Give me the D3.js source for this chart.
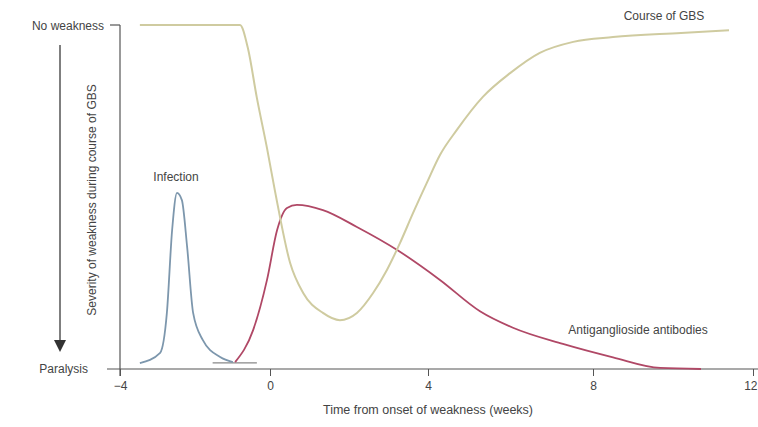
<!DOCTYPE html>
<html>
<head>
<meta charset="utf-8">
<script src="https://cdn.jsdelivr.net/npm/d3@7"></script>
<style>
  body { margin: 0; background: #fff; }
  text { font-family: "Liberation Sans", Arial, sans-serif; fill: #444; }
</style>
</head>
<body>
<svg width="758" height="427"></svg>
<script>
// weeks from onset, severity (100 = no weakness, 0 = paralysis)
const gbsWeeks = [-3.47, -0.8, -0.59, -0.35, -0.08, 0.13, 0.51, 0.84, 1.34, 1.77, 2.2, 2.61, 2.96, 3.29, 3.62, 3.97, 4.29, 4.7, 5.33, 5.99, 6.71, 7.52, 8.5, 10.2, 11.4];
const gbsValues = [100, 100, 93.3, 78.8, 64.2, 51.5, 30.8, 22.1, 16.3, 14.2, 16.3, 22.1, 28.8, 36.6, 45.3, 54.1, 62.2, 69.5, 79.1, 86.0, 91.9, 95.1, 96.5, 97.7, 98.5];

const abWeeks = [-0.93, -0.45, -0.08, 0.18, 0.43, 0.68, 1.34, 2.2, 3.22, 4.29, 5.26, 6.06, 7.27, 8.5, 9.68, 10.7];
const abValues = [2.0, 11.3, 25.9, 40.4, 46.8, 47.7, 46.2, 41.3, 34.6, 25.9, 16.8, 12.0, 7.3, 3.4, 0.3, 0];

const infWeeks = [-3.47, -2.93, -2.75, -2.61, -2.48, -2.35, -2.21, -2.05, -1.79, -1.33, -0.99];
const infValues = [1.7, 4.7, 16.3, 40.4, 51.2, 49.1, 35.5, 16.3, 8.4, 3.5, 2.0];

const baseWeeks = [-1.53, -0.35];
const baseValues = [1.8, 1.8];

const xTicks = [-4, 0, 4, 8, 12];

const svg = d3.select("svg");

// drawn axis is not quite even, so a piecewise scale
const x = d3.scaleLinear().domain([-4, 0, 4, 8, 12]).range([120, 270, 428, 593, 753]);
const y = d3.scaleLinear().domain([0, 100]).range([369, 25]);

const line = d3.line()
  .x(d => x(d[0]))
  .y(d => y(d[1]))
  .curve(d3.curveMonotoneX);

const zip = (a, b) => a.map((v, i) => [v, b[i]]);

// axes
svg.append("line")
  .attr("x1", 107).attr("x2", 758)
  .attr("y1", y(0)).attr("y2", y(0))
  .attr("stroke", "#555").attr("stroke-width", 1.2);
svg.append("line")
  .attr("x1", x(-4)).attr("x2", x(-4))
  .attr("y1", y(100)).attr("y2", y(0) + 7)
  .attr("stroke", "#555").attr("stroke-width", 1.2);
svg.append("line")
  .attr("x1", x(-4) - 10).attr("x2", x(-4))
  .attr("y1", y(100)).attr("y2", y(100))
  .attr("stroke", "#555").attr("stroke-width", 1.2);

const xAxis = svg.append("g")
  .attr("transform", "translate(0," + y(0) + ")")
  .call(d3.axisBottom(x).tickValues(xTicks).tickSize(7).tickPadding(5).tickFormat(d3.format("d")));
xAxis.select(".domain").remove();
xAxis.selectAll("line").attr("stroke", "#555");
xAxis.selectAll("text").attr("font-size", 12).attr("fill", "#444")
  .style("font-family", "Liberation Sans, Arial, sans-serif");
// last label sits against the right edge
xAxis.selectAll("text").filter(d => d === 12)
  .attr("text-anchor", "end").attr("dx", 4);

svg.append("text")
  .attr("x", 428).attr("y", 414)
  .attr("text-anchor", "middle").attr("font-size", 12.5)
  .text("Time from onset of weakness (weeks)");

svg.append("text")
  .attr("transform", "translate(96,200) rotate(-90)")
  .attr("text-anchor", "middle").attr("font-size", 12)
  .text("Severity of weakness during course of GBS");

svg.append("text")
  .attr("x", 104).attr("y", 30)
  .attr("text-anchor", "end").attr("font-size", 12)
  .text("No weakness");
svg.append("text")
  .attr("x", 88).attr("y", 373)
  .attr("text-anchor", "end").attr("font-size", 12)
  .text("Paralysis");

// arrow
svg.append("line")
  .attr("x1", 60).attr("x2", 60).attr("y1", 45).attr("y2", 342)
  .attr("stroke", "#555").attr("stroke-width", 1.5);
svg.append("path")
  .attr("d", "M54,340 L66,340 L60,352 Z")
  .attr("fill", "#333");

// curves
svg.append("path")
  .datum(zip(baseWeeks, baseValues))
  .attr("d", line)
  .attr("fill", "none").attr("stroke", "#888").attr("stroke-width", 1.2);

svg.append("path")
  .datum(zip(infWeeks, infValues))
  .attr("d", line)
  .attr("fill", "none").attr("stroke", "#7d97ad").attr("stroke-width", 1.8);

svg.append("path")
  .datum(zip(abWeeks, abValues))
  .attr("d", line)
  .attr("fill", "none").attr("stroke", "#b04866").attr("stroke-width", 1.8);

svg.append("path")
  .datum(zip(gbsWeeks, gbsValues))
  .attr("d", line)
  .attr("fill", "none").attr("stroke", "#cfcba0").attr("stroke-width", 2);

// labels
svg.append("text").attr("x", 176).attr("y", 181)
  .attr("text-anchor", "middle").attr("font-size", 12).text("Infection");
svg.append("text").attr("x", 664).attr("y", 20)
  .attr("text-anchor", "middle").attr("font-size", 12).text("Course of GBS");
svg.append("text").attr("x", 638).attr("y", 334)
  .attr("text-anchor", "middle").attr("font-size", 12).text("Antiganglioside antibodies");
</script>
</body>
</html>
